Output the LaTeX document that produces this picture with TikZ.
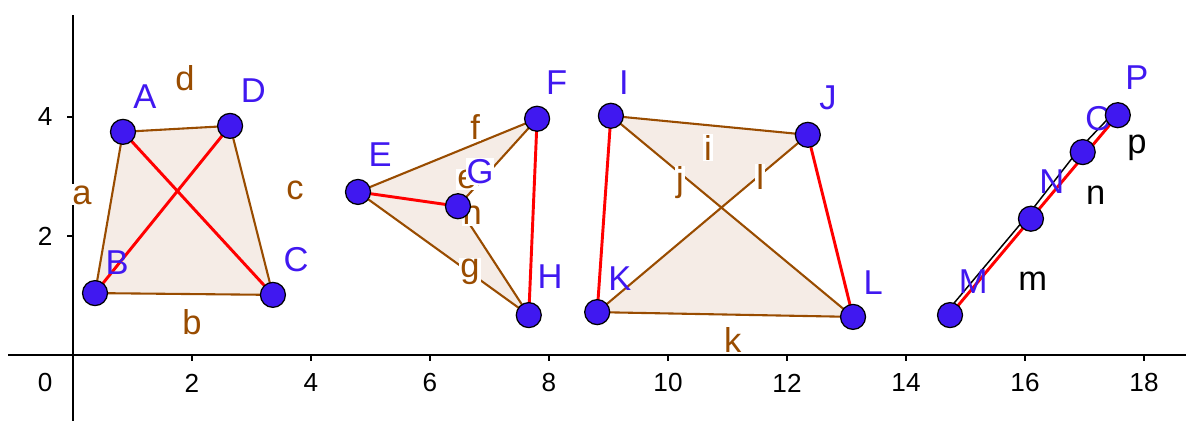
\documentclass[tikz,border=0pt]{standalone}
\usepackage{fontspec}
\setmainfont{Liberation Sans}
\usepackage{xcolor}
\usetikzlibrary{calc}
\definecolor{ggbrown}{RGB}{153,76,0}
\definecolor{ggfill}{RGB}{245,236,230}
\definecolor{ggblue}{RGB}{64,24,240}
\definecolor{ggred}{RGB}{255,0,0}
\begin{document}
\begin{tikzpicture}[
  axisline/.style={line width=1pt, black},
  ticklabel/.style={font=\fontsize{12.5}{14}\selectfont, inner sep=0pt},
  edge/.style={line width=1pt, ggbrown},
  diag/.style={line width=1.4pt, ggred},
  thinseg/.style={line width=0.7pt, black},
  polyfill/.style={fill=ggfill},
  pt/.style={circle, draw=black, line width=0.6pt, fill=ggblue, minimum size=0.42cm, inner sep=0pt},
  ptlabel/.style={text=ggblue, font=\fontsize{16.5}{19}\selectfont, inner sep=0.5pt},
  seglabel/.style={text=ggbrown, font=\fontsize{16.5}{19}\selectfont, fill=white, inner sep=0.5pt},
  blacklabel/.style={text=black, font=\fontsize{16.5}{19}\selectfont, inner sep=0.5pt}
]
\useasboundingbox (-1.227,-1.109) rectangle (18.706,5.966);

% Axes
\draw[axisline] (-1.09,0) -- (18.706,0);
\draw[axisline] (0,5.71) -- (0,-1.109);
\foreach \x in {2,4,...,18} {
  \draw[axisline] (\x,0) -- (\x,-0.1);
  \node[ticklabel] (tx\x) at (\x,-0.47) {\x};
}
\foreach \y in {2,4} {
  \draw[axisline] (0,\y) -- (-0.1,\y);
  \node[ticklabel] (ty\y) at (-0.47,\y) {\y};
}
\node[ticklabel] (t0) at (-0.47,-0.47) {0};

% Points
\coordinate (A) at (0.84,3.75);
\coordinate (B) at (0.37,1.04);
\coordinate (C) at (3.36,1.01);
\coordinate (D) at (2.64,3.85);
\coordinate (E) at (4.79,2.74);
\coordinate (F) at (7.80,3.97);
\coordinate (G) at (6.47,2.50);
\coordinate (H) at (7.66,0.67);
\coordinate (I) at (9.04,4.02);
\coordinate (J) at (12.35,3.70);
\coordinate (K) at (8.81,0.72);
\coordinate (L) at (13.11,0.64);
\coordinate (M) at (14.74,0.67);
\coordinate (N) at (16.10,2.29);
\coordinate (O) at (16.97,3.41);
\coordinate (P) at (17.56,4.03);

% Polygon ABCD
\fill[polyfill] (A) -- (B) -- (C) -- (D) -- cycle;
\draw[edge] (A) -- (B) -- (C) -- (D) -- cycle;
\draw[diag] (A) -- (C);
\draw[diag] (B) -- (D);

% Polygon EFGH
\fill[polyfill] (E) -- (F) -- (G) -- (H) -- cycle;
\draw[edge] (E) -- (F) -- (G) -- (H) -- cycle;
\draw[diag] (E) -- (G);
\draw[diag] (F) -- (H);

% Polygon IJKL
\fill[polyfill] (I) -- (J) -- (K) -- (L) -- cycle;
\draw[edge] (I) -- (J) -- (K) -- (L) -- cycle;
\draw[diag] (I) -- (K);
\draw[diag] (J) -- (L);

% Path MNOP
\draw[thinseg] ($(M)+(-0.06,0.05)$) -- ($(N)+(-0.06,0.05)$) -- ($(O)+(-0.06,0.05)$) -- ($(P)+(-0.06,0.05)$);
\draw[diag] (M) -- (P);

% Segment labels
\node[seglabel] (la) at (0.15,2.69) {a};
\node[seglabel] (lb) at (2.00,0.55) {b};
\node[seglabel] (lc) at (3.73,2.77) {c};
\node[seglabel] (ld) at (1.88,4.66) {d};
\node[seglabel] (le) at (6.62,2.95) {e};
\node[seglabel] (lf) at (6.76,3.83) {f};
\node[seglabel] (lg) at (6.67,1.39) {g};
\node[seglabel] (lh) at (6.71,2.40) {h};
\node[seglabel] (li) at (10.67,3.48) {i};
\node[seglabel] (lj) at (10.20,2.89) {j};
\node[seglabel] (lk) at (11.09,0.25) {k};
\node[seglabel] (ll) at (11.55,2.99) {l};
\node[blacklabel] (lm) at (16.13,1.24) {m};
\node[blacklabel] (ln) at (17.19,2.69) {n};
\node[blacklabel] (lp) at (17.88,3.48) {p};

% Point labels
\node[ptlabel] (labA) at (1.21,4.34) {A};
\node[ptlabel] (labB) at (0.74,1.56) {B};
\node[ptlabel] (labC) at (3.75,1.60) {C};
\node[ptlabel] (labD) at (3.03,4.45) {D};
\node[ptlabel] (labE) at (5.16,3.36) {E};
\node[ptlabel] (labF) at (8.13,4.57) {F};
\node[ptlabel, fill=white] (labG) at (6.84,3.08) {G};
\node[ptlabel] (labH) at (8.02,1.31) {H};
\node[ptlabel] (labI) at (9.26,4.57) {I};
\node[ptlabel] (labJ) at (12.69,4.32) {J};
\node[ptlabel] (labK) at (9.19,1.29) {K};
\node[ptlabel] (labL) at (13.45,1.21) {L};
\node[ptlabel] (labM) at (15.13,1.23) {M};
\node[ptlabel] (labN) at (16.45,2.91) {N};
\node[ptlabel] (labO) at (17.24,3.98) {O};
\node[ptlabel] (labP) at (17.88,4.66) {P};

% Point markers
\foreach \p in {A,B,C,D,E,F,G,H,I,J,K,L,M,N,O,P}
  \node[pt] (pt\p) at (\p) {};
\end{tikzpicture}
\end{document}
